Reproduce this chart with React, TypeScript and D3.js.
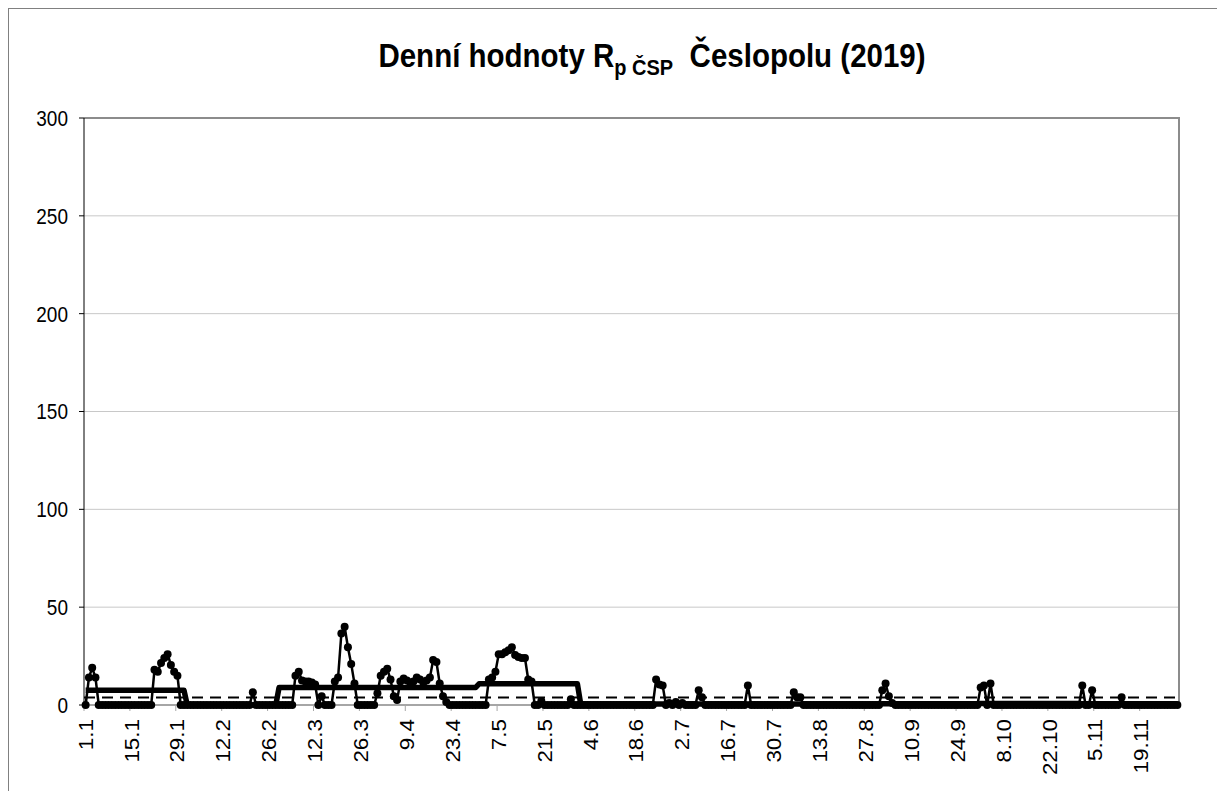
import React from "react";
import * as d3 from "d3";

// daily values, one array per month (1.1 – 30.11)
const jan = [0, 14, 19, 14, 0, 0, 0, 0, 0, 0, 0, 0, 0, 0, 0, 0, 0, 0, 0, 0, 0, 18, 17, 21.5, 24, 26, 20.5, 17, 15, 0, 0];
const feb = [0, 0, 0, 0, 0, 0, 0, 0, 0, 0, 0, 0, 0, 0, 0, 0, 0, 0, 0, 0, 6.5, 0, 0, 0, 0, 0, 0, 0];
const mar = [0, 0, 0, 0, 0, 15, 17, 12.5, 12, 12, 11.5, 10.5, 0, 4.5, 0, 0, 0, 12, 14, 36.5, 40, 29.5, 21, 11, 0, 0, 0, 0, 0, 0, 6];
const apr = [15, 17, 18.5, 13, 4.5, 2.5, 12, 13.5, 12.5, 11.5, 12, 14, 13, 11.5, 12.5, 14, 23, 22, 11, 4.5, 1.5, 0, 0, 0, 0, 0, 0, 0, 0, 0];
const may = [0, 0, 0, 13, 14, 17, 26, 26, 27, 28, 29.5, 25.5, 24.5, 24, 24, 13, 12, 0, 0, 2, 0, 0, 0, 0, 0, 0, 0, 0, 3, 0, 0];
const jun = [0, 0, 0, 0, 0, 0, 0, 0, 0, 0, 0, 0, 0, 0, 0, 0, 0, 0, 0, 0, 0, 0, 0, 13, 10.5, 10, 0, 1, 0, 1.5];
const jul = [0, 1, 0, 0, 0, 0, 7.5, 4, 0, 0, 0, 0, 0, 0, 0, 0, 0, 0, 0, 0, 0, 10, 0, 0, 0, 0, 0, 0, 0, 0, 0];
const aug = [0, 0, 0, 0, 6.5, 4, 4, 0, 0, 0, 0, 0, 0, 0, 0, 0, 0, 0, 0, 0, 0, 0, 0, 0, 0, 0, 0, 0, 0, 0, 0];
const sep = [7.5, 11, 4.5, 1, 0, 0, 0, 0, 0, 0, 0, 0, 0, 0, 0, 0, 0, 0, 0, 0, 0, 0, 0, 0, 0, 0, 0, 0, 0, 0];
const oct = [9, 10, 0, 11, 0, 0, 0, 0, 0, 0, 0, 0, 0, 0, 0, 0, 0, 0, 0, 0, 0, 0, 0, 0, 0, 0, 0, 0, 0, 0, 0];
const nov = [10, 0, 0, 7.5, 0, 0, 0, 0, 0, 0, 0, 0, 4, 0, 0, 0, 0, 0, 0, 0, 0, 0, 0, 0, 0, 0, 0, 0, 0, 0];

const dailyByMonth = [jan, feb, mar, apr, may, jun, jul, aug, sep, oct, nov];
// monthly mean (thick step line)
const monthlyMean = [7.5, 0, 9, 9, 10.8, 0.5, 0.5, 0.5, 0.6, 0.8, 0.6];
// limit (dashed line)
const limitValue = 3.8;

const yTicks = [0, 50, 100, 150, 200, 250, 300];
const xTickLabels = [
  "1.1", "15.1", "29.1", "12.2", "26.2", "12.3", "26.3", "9.4", "23.4", "7.5", "21.5", "4.6",
  "18.6", "2.7", "16.7", "30.7", "13.8", "27.8", "10.9", "24.9", "8.10", "22.10", "5.11", "19.11",
];
const tickStep = 14;

const FONT = "'Liberation Sans', Arial, sans-serif";

export default function App() {
  const width = 1217;
  const height = 791;
  const plotLeft = 84;
  const plotRight = 1179;
  const plotTop = 118;
  const plotBottom = 705;

  const daily = dailyByMonth.flat();
  const means = dailyByMonth.flatMap((m, i) => m.map(() => monthlyMean[i]));
  const limits = daily.map(() => limitValue);

  const x = d3
    .scaleBand<number>()
    .domain(d3.range(daily.length))
    .range([plotLeft, plotRight]);
  const cx = (i: number) => (x(i) as number) + x.bandwidth() / 2;

  const y = d3.scaleLinear().domain([0, 300]).range([plotBottom, plotTop]);

  const line = d3
    .line<number>()
    .x((_, i) => cx(i))
    .y((d) => y(d));

  const limitLine = d3
    .line<number>()
    .x((_, i) => (i === 0 ? plotLeft : i === limits.length - 1 ? plotRight : cx(i)))
    .y((d) => y(d));

  return (
    <svg
      width={width}
      height={height}
      style={{ position: "absolute", left: 0, top: 0, background: "#fff" }}
    >
      {/* chart area border (cropped at right / bottom) */}
      <rect x={8.5} y={8.5} width={1400} height={1000} fill="#fff" stroke="#808080" strokeWidth={1} />

      {/* title */}
      <text
        transform="translate(652,67) scale(1,1.1)"
        textAnchor="middle"
        fontFamily={FONT}
        fontWeight="bold"
        fontSize={29.5}
        fill="#000"
      >
        Denní hodnoty R
        <tspan fontSize={20} dy={7}>p ČSP</tspan>
        <tspan dy={-7}>{"\u00a0\u00a0Česlopolu (2019)"}</tspan>
      </text>

      {/* gridlines */}
      {yTicks
        .filter((t) => t > 0 && t < 300)
        .map((t) => (
          <line key={t} x1={plotLeft} x2={plotRight} y1={y(t)} y2={y(t)} stroke="#c8c8c8" strokeWidth={1} />
        ))}

      {/* plot border top/right */}
      <path
        d={`M${plotLeft},${y(300)}H${plotRight}V${plotBottom}`}
        fill="none"
        stroke="#8c8c8c"
        strokeWidth={2}
      />

      {/* x axis */}
      <line x1={plotLeft} x2={plotRight} y1={plotBottom} y2={plotBottom} stroke="#a6a6a6" strokeWidth={2} />
      {xTickLabels.map((lab, i) => {
        const idx = i * tickStep;
        const tx = x(idx) as number;
        return (
          <g key={lab}>
            <line x1={tx} x2={tx} y1={plotBottom} y2={plotBottom + 6} stroke="#a6a6a6" strokeWidth={1} />
            <text
              transform={`translate(${cx(idx)},${719}) rotate(-90) scale(1.15,1)`}
              textAnchor="end"
              dy="0.36em"
              fontFamily={FONT}
              fontSize={19.5}
              fill="#000"
            >
              {lab}
            </text>
          </g>
        );
      })}

      {/* y axis */}
      <line x1={plotLeft} x2={plotLeft} y1={plotTop} y2={plotBottom} stroke="#000" strokeWidth={1} />
      {yTicks.map((t) => (
        <g key={t}>
          <line x1={plotLeft - 5} x2={plotLeft} y1={y(t)} y2={y(t)} stroke="#000" strokeWidth={1} />
          <text
            transform={`translate(68,${y(t)}) scale(1,1.15)`}
            dy="0.36em"
            textAnchor="end"
            fontFamily={FONT}
            fontSize={19}
            fill="#000"
          >
            {t}
          </text>
        </g>
      ))}

      {/* limit */}
      <path d={limitLine(limits) ?? ""} fill="none" stroke="#000" strokeWidth={2} strokeDasharray="11,7" />

      {/* monthly mean */}
      <path d={line(means) ?? ""} fill="none" stroke="#000" strokeWidth={5.5} strokeLinejoin="round" />

      {/* daily values */}
      <path d={line(daily) ?? ""} fill="none" stroke="#000" strokeWidth={2.5} strokeLinejoin="round" />
      {daily.map((v, i) => (
        <circle key={i} cx={cx(i)} cy={y(v)} r={4} fill="#000" />
      ))}
    </svg>
  );
}
